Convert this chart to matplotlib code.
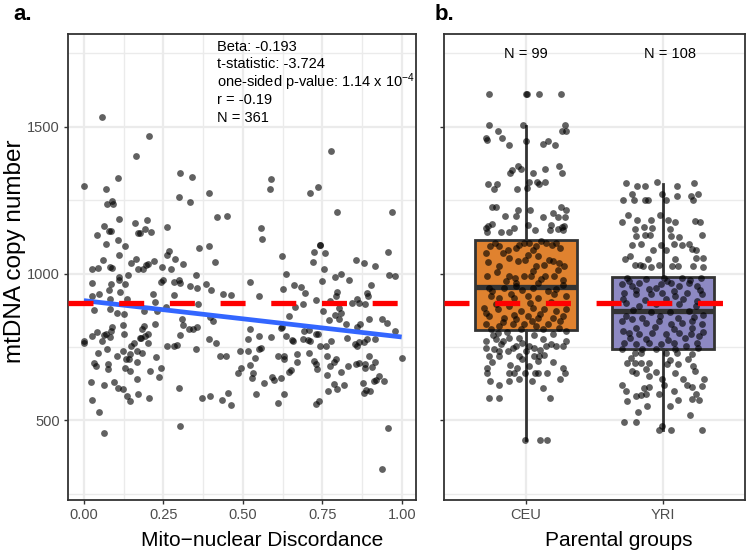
import numpy as np
import matplotlib
matplotlib.use("Agg")
import matplotlib.pyplot as plt
from matplotlib.ticker import FixedLocator

plt.rcParams['font.family'] = ['Liberation Sans', 'DejaVu Sans']
plt.rcParams['mathtext.fontset'] = 'custom'
plt.rcParams['mathtext.rm'] = 'Liberation Sans'
plt.rcParams['mathtext.default'] = 'regular'
plt.rcParams['lines.scale_dashes'] = False

# Panel a: mito-nuclear discordance vs mtDNA copy number
disc_pts = [
    (0.205, 1469), (0.164, 1399), (0.000, 1300), (0.069, 1289), (0.108, 1324), (0.087, 1248),
    (0.072, 1236), (0.093, 1236), (0.301, 1341), (0.339, 1330), (0.299, 1262), (0.334, 1244),
    (0.394, 1274), (0.418, 1193), (0.450, 1197), (0.111, 1187), (0.063, 1162), (0.041, 1133),
    (0.080, 1146), (0.085, 1146), (0.070, 1101), (0.106, 1115), (0.130, 1094), (0.110, 1065),
    (0.161, 1173), (0.199, 1181), (0.170, 1139), (0.176, 1139), (0.191, 1152), (0.210, 1141),
    (0.262, 1159), (0.267, 1076), (0.261, 1064), (0.285, 1051), (0.312, 1034), (0.362, 1086),
    (0.394, 1093), (0.412, 1041), (0.059, 1045), (0.026, 1014), (0.044, 1019), (0.081, 1024),
    (0.087, 1018), (0.147, 1036), (0.165, 1049), (0.169, 1015), (0.187, 1015), (0.195, 1030),
    (0.201, 1034), (0.221, 1043), (0.245, 1021), (0.275, 1014), (0.111, 987), (0.111, 977),
    (0.139, 996), (0.026, 967), (0.084, 965), (0.129, 963), (0.080, 945), (0.112, 938),
    (0.025, 925), (0.048, 929), (0.082, 915), (0.134, 915), (0.218, 929), (0.224, 905),
    (0.241, 973), (0.248, 977), (0.284, 970), (0.298, 977), (0.303, 967), (0.284, 928),
    (0.335, 957), (0.354, 950), (0.353, 994), (0.385, 965), (0.398, 945), (0.436, 931),
    (0.461, 928), (0.358, 897), (0.258, 885), (0.058, 1535),
    (0.777, 1419), (0.588, 1323), (0.586, 1287), (0.710, 1273), (0.737, 1296), (0.796, 1210),
    (0.970, 1210), (0.556, 1155), (0.559, 1119), (0.741, 1098), (0.743, 1098), (0.722, 1074),
    (0.758, 1070), (0.719, 1041), (0.756, 1015), (0.623, 1059), (0.636, 998), (0.522, 972),
    (0.549, 925), (0.627, 949), (0.660, 960), (0.683, 953), (0.696, 935), (0.690, 895),
    (0.729, 909), (0.747, 974), (0.788, 989), (0.808, 1000), (0.834, 977), (0.854, 1048),
    (0.881, 1035), (0.916, 1027), (0.957, 1075), (0.959, 996), (0.979, 993), (0.903, 960),
    (0.889, 934), (0.893, 923), (0.797, 936), (0.792, 925), (0.859, 912), (0.866, 900),
    (0.885, 898), (0.843, 899), (0.664, 885), (0.774, 906), (0.801, 883),
    (0.031, 875), (0.083, 880), (0.104, 866), (0.127, 863), (0.189, 871), (0.229, 871),
    (0.086, 804), (0.069, 794), (0.062, 791), (0.027, 787), (0.042, 802), (0.087, 817),
    (0.081, 785), (0.058, 771), (0.124, 824), (0.125, 794), (0.183, 810), (0.190, 821),
    (0.203, 796), (0.175, 780), (0.180, 780), (0.193, 787), (0.201, 764), (0.224, 828),
    (0.000, 771), (0.000, 765), (0.156, 764), (0.148, 755), (0.073, 742), (0.044, 730),
    (0.122, 736), (0.104, 719), (0.146, 727), (0.166, 736), (0.182, 730), (0.132, 708),
    (0.142, 708), (0.167, 700), (0.031, 696), (0.038, 687), (0.077, 692), (0.077, 676),
    (0.128, 677), (0.145, 667), (0.227, 717), (0.208, 669), (0.242, 678), (0.237, 647),
    (0.166, 642), (0.022, 632), (0.063, 620), (0.094, 630), (0.106, 612), (0.122, 608),
    (0.027, 570), (0.136, 582), (0.144, 565), (0.171, 589), (0.204, 575), (0.047, 528),
    (0.064, 456), (0.261, 755), (0.282, 753), (0.293, 757), (0.302, 791), (0.311, 824),
    (0.309, 844), (0.331, 810), (0.342, 813), (0.354, 819), (0.353, 743), (0.300, 612),
    (0.303, 480), (0.370, 578), (0.397, 584), (0.433, 570), (0.454, 594), (0.461, 551),
    (0.392, 776), (0.414, 764), (0.406, 837), (0.427, 718), (0.447, 719), (0.490, 738),
    (0.483, 662), (0.493, 679), (0.395, 853),
    (0.645, 855), (0.622, 819), (0.753, 872), (0.772, 841), (0.788, 858), (0.802, 846),
    (0.823, 830), (0.808, 865), (0.895, 844), (0.868, 830), (0.857, 819), (0.937, 847),
    (0.952, 832), (0.979, 806), (0.999, 713), (0.523, 810), (0.515, 778), (0.550, 789),
    (0.588, 783), (0.620, 815), (0.634, 787), (0.653, 773), (0.658, 769), (0.688, 778),
    (0.703, 773), (0.711, 770), (0.731, 793), (0.735, 796), (0.692, 804), (0.708, 807),
    (0.742, 755), (0.761, 753), (0.776, 770), (0.826, 781), (0.852, 759), (0.860, 753),
    (0.865, 766), (0.881, 766), (0.889, 778), (0.915, 778), (0.515, 736), (0.549, 742),
    (0.556, 745), (0.537, 712), (0.523, 688), (0.532, 662), (0.527, 645), (0.565, 628),
    (0.541, 589), (0.609, 719), (0.628, 721), (0.628, 708), (0.670, 725), (0.670, 700),
    (0.709, 730), (0.723, 702), (0.730, 691), (0.734, 674), (0.765, 721), (0.773, 685),
    (0.791, 710), (0.787, 698), (0.809, 666), (0.829, 687), (0.855, 691), (0.866, 696),
    (0.884, 691), (0.884, 680), (0.897, 719), (0.915, 700), (0.906, 683), (0.591, 647),
    (0.598, 638), (0.619, 646), (0.644, 664), (0.650, 671), (0.765, 655), (0.785, 625),
    (0.795, 606), (0.766, 600), (0.818, 620), (0.630, 591), (0.610, 560), (0.731, 557),
    (0.738, 566), (0.878, 626), (0.888, 603), (0.881, 594), (0.899, 600), (0.912, 633),
    (0.917, 636), (0.929, 651), (0.944, 633), (0.957, 474), (0.936, 336),
]
fit_intercept = 908
fit_slope = -124
ref_line = 900
stats_lines = ['Beta: -0.193', 't-statistic: -3.724',
               'one-sided p-value: 1.14 x 10$^{-4}$', 'r = -0.19', 'N = 361']

# Panel b: parental groups
groups = ['CEU', 'YRI']
group_n = ['N = 99', 'N = 108']
box_whislo = [434, 469]
box_q1 = [807, 742]
box_med = [955, 871]
box_q3 = [1116, 989]
box_whishi = [1503, 1306]
box_colors = ['#E0822F', '#8D89C3']

# jittered points: (offset from group centre, copy number)
ceu_pts = [
    (-0.274, 1612), (0.000, 1612), (0.004, 1612), (0.095, 1612), (0.255, 1612),
    (-0.268, 1506), (-0.020, 1506), (0.287, 1506), (-0.202, 1485), (-0.292, 1463),
    (-0.287, 1456), (-0.177, 1463), (-0.126, 1439), (0.000, 1452), (0.122, 1440),
    (0.158, 1453), (0.209, 1439), (0.260, 1485), (0.292, 1485), (-0.058, 1368),
    (-0.102, 1354), (-0.114, 1344), (-0.034, 1356), (0.049, 1344), (0.139, 1356),
    (0.241, 1367), (0.260, 1344), (-0.279, 1306), (-0.213, 1306), (-0.235, 1289),
    (-0.068, 1289), (0.024, 1311), (0.009, 1290), (0.080, 1311), (0.097, 1306),
    (0.141, 1311), (-0.246, 1227), (-0.217, 1227), (-0.153, 1197), (-0.061, 1218),
    (-0.073, 1197), (0.031, 1218), (0.122, 1193), (0.199, 1206), (0.255, 1226),
    (0.294, 1218), (0.234, 1193), (0.287, 1193), (-0.279, 1163), (-0.292, 1156),
    (-0.250, 1169), (-0.287, 1141), (-0.182, 1141), (-0.122, 1141), (-0.090, 1157),
    (0.012, 1167), (0.068, 1150), (0.180, 1167), (0.175, 1150), (0.234, 1153),
    (0.260, 1159), (0.279, 1161), (0.268, 1147), (-0.263, 1095), (-0.292, 1070),
    (-0.195, 1093), (-0.170, 1070), (-0.134, 1082), (-0.073, 1087), (-0.012, 1104),
    (0.024, 1104), (0.049, 1082), (0.012, 1065), (0.109, 1110), (0.146, 1104),
    (0.190, 1099), (0.219, 1104), (-0.122, 1053), (-0.061, 1042), (0.085, 1059),
    (0.170, 1048), (0.195, 1042), (0.243, 1036), (0.279, 1025), (0.073, 1025),
    (-0.195, 1025), (-0.287, 991), (-0.122, 991), (-0.078, 985), (-0.012, 991),
    (0.036, 991), (0.141, 991), (0.207, 991), (0.268, 977), (-0.073, 968), (0.085, 968),
    (-0.268, 951), (-0.159, 951), (-0.073, 957), (0.049, 951), (0.219, 949),
    (-0.255, 923), (-0.195, 917), (-0.085, 917), (0.012, 923), (0.085, 917),
    (0.207, 929), (0.292, 923), (-0.304, 883), (-0.207, 878), (-0.122, 889),
    (-0.036, 872), (0.049, 883), (0.134, 878), (0.219, 872), (0.292, 878),
    (-0.268, 855), (-0.159, 849), (-0.073, 844), (0.012, 855), (0.085, 849),
    (0.195, 849), (0.268, 855), (-0.292, 827), (-0.195, 821), (-0.097, 827),
    (-0.012, 827), (0.073, 821), (0.158, 827), (0.243, 815), (-0.207, 798),
    (-0.122, 781), (-0.049, 781), (-0.292, 770), (-0.219, 776), (-0.170, 770),
    (-0.097, 747), (-0.073, 753), (0.024, 753), (0.061, 747), (0.146, 753),
    (0.182, 759), (0.219, 753), (0.268, 753), (0.122, 776), (-0.292, 747),
    (-0.231, 742), (-0.195, 738), (-0.134, 736), (0.000, 736), (-0.268, 719),
    (-0.195, 719), (-0.053, 719), (0.061, 719), (0.092, 719), (0.134, 722),
    (-0.029, 708), (0.085, 704), (-0.287, 677), (-0.287, 662), (-0.122, 662),
    (-0.085, 662), (-0.068, 677), (-0.005, 662), (0.068, 662), (0.088, 662),
    (0.153, 662), (0.268, 677), (0.285, 662), (-0.263, 634), (-0.122, 634),
    (0.044, 634), (-0.268, 577), (-0.195, 577), (0.177, 577), (-0.005, 432),
    (0.102, 432), (0.151, 432),
    # densely overlapped points inside / near the box (estimated)
    (-0.23, 1105), (-0.05, 1098), (0.07, 1095), (0.25, 1088), (-0.28, 1040),
    (-0.01, 1045), (0.13, 1030), (-0.21, 1005), (0.05, 1008), (0.23, 1012),
    (-0.15, 975), (0.11, 980), (-0.25, 940), (-0.03, 945), (0.16, 940), (0.27, 960),
    (-0.11, 930), (0.03, 900), (-0.22, 895), (0.18, 905), (-0.29, 865), (-0.09, 860),
    (0.10, 862), (0.25, 840), (-0.17, 835), (0.04, 840), (-0.26, 812), (-0.04, 812),
    (0.12, 810), (0.29, 805), (-0.14, 800), (0.20, 795), (-0.24, 790), (0.06, 790),
    (0.29, 770), (-0.03, 765), (-0.18, 760), (0.10, 740), (-0.25, 700), (0.20, 700),
    (-0.12, 690), (0.02, 685), (0.25, 640), (-0.05, 640), (-0.20, 620), (0.12, 610),
]
yri_pts = [
    (-0.272, 1308), (-0.187, 1299), (-0.131, 1299), (-0.041, 1311), (0.100, 1299),
    (0.229, 1308), (-0.229, 1272), (-0.010, 1272), (0.105, 1264), (0.207, 1264),
    (0.255, 1272), (-0.290, 1249), (-0.212, 1249), (-0.131, 1249), (-0.107, 1249),
    (0.019, 1249), (0.219, 1249), (-0.253, 1198), (-0.302, 1176), (-0.192, 1181),
    (-0.090, 1181), (-0.024, 1198), (0.034, 1184), (0.092, 1176), (0.049, 1153),
    (0.231, 1178), (0.268, 1175), (-0.204, 1153), (-0.139, 1159), (-0.078, 1155),
    (-0.195, 1129), (-0.131, 1130), (-0.097, 1130), (0.056, 1127), (0.117, 1125),
    (0.287, 1130), (-0.224, 1096), (-0.158, 1102), (-0.017, 1099), (0.080, 1102),
    (0.141, 1099), (0.190, 1102), (0.209, 1085), (-0.073, 1082), (0.024, 1082),
    (0.243, 1082), (-0.277, 1051), (-0.241, 1059), (-0.107, 1050), (0.092, 1051),
    (0.239, 1053), (0.292, 1053), (-0.204, 1028), (-0.170, 1031), (-0.144, 1027),
    (-0.085, 1023), (-0.029, 1031), (0.063, 1025), (0.112, 1025), (0.219, 1027),
    (0.292, 1023), (-0.260, 985), (0.007, 985), (0.141, 985), (0.275, 985),
    (-0.297, 963), (-0.224, 957), (-0.175, 968), (-0.102, 946), (-0.017, 963),
    (0.056, 968), (0.117, 957), (0.190, 968), (0.250, 957), (-0.285, 934),
    (-0.199, 929), (-0.090, 929), (-0.005, 934), (0.092, 923), (0.178, 934),
    (0.287, 929), (-0.272, 900), (-0.175, 889), (-0.053, 895), (0.117, 895),
    (0.239, 889), (-0.297, 838), (-0.224, 844), (-0.126, 832), (-0.029, 838),
    (0.056, 827), (0.141, 832), (0.214, 838), (0.287, 827), (-0.248, 798),
    (-0.175, 793), (-0.078, 798), (0.019, 793), (0.117, 798), (0.202, 793),
    (0.263, 787), (-0.285, 764), (-0.199, 759), (-0.102, 764), (-0.017, 759),
    (0.080, 764), (0.166, 753), (0.250, 764), (-0.297, 744), (-0.151, 744),
    (0.092, 744), (-0.204, 730), (-0.163, 728), (0.019, 730), (0.105, 728),
    (0.214, 725), (-0.260, 696), (-0.204, 694), (-0.163, 696), (-0.102, 694),
    (0.032, 691), (0.112, 691), (0.219, 685), (-0.224, 668), (-0.195, 660),
    (-0.126, 674), (-0.049, 664), (-0.005, 640), (0.092, 660), (0.234, 668),
    (0.299, 640), (-0.302, 620), (-0.139, 611), (-0.102, 615), (0.007, 622),
    (0.178, 622), (0.214, 615), (0.243, 589), (0.287, 617), (-0.199, 583),
    (-0.163, 585), (-0.126, 589), (-0.029, 589), (-0.260, 566), (-0.115, 549),
    (0.112, 569), (0.209, 574), (0.263, 571), (0.051, 549), (-0.285, 494),
    (-0.195, 494), (-0.029, 467), (0.056, 469), (0.287, 467), (-0.010, 481),
    # densely overlapped points inside / near the box (estimated)
    (-0.25, 975), (-0.12, 980), (0.03, 975), (0.20, 978), (-0.20, 945), (-0.05, 950),
    (0.08, 940), (0.27, 945), (-0.29, 915), (-0.13, 910), (0.02, 915), (0.15, 912),
    (0.25, 908), (-0.22, 875), (-0.09, 870), (0.05, 868), (0.19, 872), (0.29, 860),
    (-0.27, 855), (-0.15, 850), (-0.02, 855), (0.11, 850), (0.23, 852), (-0.20, 815),
    (-0.06, 818), (0.08, 812), (0.21, 815), (-0.29, 805), (0.29, 800), (-0.12, 778),
    (0.04, 775), (0.16, 780), (-0.24, 780), (0.26, 745), (-0.05, 742), (-0.23, 712),
    (0.05, 705), (0.18, 710), (-0.10, 650), (0.15, 640), (-0.27, 600), (0.08, 600),
    (-0.18, 530), (0.20, 520),
]

dark = '#333333'
pt_color = (0, 0, 0, 0.62)


def style_panel(ax):
    for s in ax.spines.values():
        s.set_color(dark)
        s.set_linewidth(1.3)
    ax.grid(True, which='major', color='#EBEBEB', lw=1.6)
    ax.grid(True, which='minor', color='#EBEBEB', lw=1.0)
    ax.set_axisbelow(True)
    ax.tick_params(which='major', length=3, width=1, color=dark,
                   labelcolor='#4D4D4D', labelsize=10.5, pad=3)
    ax.tick_params(which='minor', length=0)
    ax.yaxis.set_major_locator(FixedLocator([500, 1000, 1500]))
    ax.yaxis.set_minor_locator(FixedLocator([250, 750, 1250, 1750]))
    ax.set_ylim(229, 1816)


fig = plt.figure(figsize=(7.5, 5.55), dpi=100)
ax1 = fig.add_axes([68 / 750, 55 / 555, 348 / 750, 466 / 555])
ax2 = fig.add_axes([444 / 750, 55 / 555, 301 / 750, 466 / 555])

# ---- panel a
style_panel(ax1)
dx, dy = zip(*disc_pts)
ax1.scatter(dx, dy, s=24, color=pt_color, linewidths=0, zorder=2)
xs = np.array([min(dx), max(dx)])
ax1.plot(xs, fit_intercept + fit_slope * xs, color='#3366FF', lw=3.4,
         solid_capstyle='butt', zorder=3)
ax1.axhline(ref_line, color='red', lw=3.8, dashes=(18, 18.5),
            dash_capstyle='butt', zorder=4)
ax1.set_xlim(-0.05, 1.044)
ax1.xaxis.set_major_locator(FixedLocator([0, 0.25, 0.5, 0.75, 1.0]))
ax1.xaxis.set_minor_locator(FixedLocator([0.125, 0.375, 0.625, 0.875]))
ax1.set_xticklabels(['0.00', '0.25', '0.50', '0.75', '1.00'])
ax1.set_yticklabels(['500', '1000', '1500'])
for i, line in enumerate(stats_lines):
    ax1.text(0.417, 1773 - i * 60.5, line, fontsize=10.5, va='center', ha='left')

# ---- panel b
style_panel(ax2)
stats = []
for i, g in enumerate(groups):
    stats.append(dict(label=g, whislo=box_whislo[i], q1=box_q1[i], med=box_med[i],
                      q3=box_q3[i], whishi=box_whishi[i], fliers=[]))
bp = ax2.bxp(stats, positions=[1, 2], widths=0.75, patch_artist=True,
             showcaps=False, manage_ticks=False,
             boxprops=dict(edgecolor=dark, linewidth=2),
             whiskerprops=dict(color=dark, linewidth=2),
             medianprops=dict(color=dark, linewidth=3.8, solid_capstyle='butt'))
for patch, c in zip(bp['boxes'], box_colors):
    patch.set_facecolor(c)
    patch.set_zorder(1.5)
for pos, pts in zip([1, 2], [ceu_pts, yri_pts]):
    ox, oy = zip(*pts)
    ax2.scatter(pos + np.array(ox), oy, s=24, color=pt_color, linewidths=0, zorder=3)
ax2.axhline(ref_line, color='red', lw=3.8, dashes=(18, 18.5),
            dash_capstyle='butt', zorder=4)
ax2.set_xlim(0.4, 2.6)
ax2.xaxis.set_major_locator(FixedLocator([1, 2]))
ax2.xaxis.set_minor_locator(FixedLocator([]))
ax2.set_xticklabels(groups)
ax2.set_yticklabels([])
for pos, lab in zip([1.0, 2.05], group_n):
    ax2.text(pos, 1748, lab, fontsize=10.5, ha='center', va='center')

# labels
fig.text(13 / 750, 1 - 15 / 555, 'a.', fontsize=16, fontweight='bold', va='center')
fig.text(435 / 750, 1 - 15 / 555, 'b.', fontsize=16, fontweight='bold', va='center')
fig.text(262 / 750, 1 - 540 / 555, 'Mito\u2212nuclear Discordance', fontsize=15,
         ha='center', va='center')
fig.text(619 / 750, 1 - 540 / 555, 'Parental groups', fontsize=15,
         ha='center', va='center')
fig.text(15.5 / 750, 1 - 251 / 555, 'mtDNA copy number', fontsize=17.5,
         rotation=90, ha='center', va='center')

fig.savefig('out.png', dpi=100)
